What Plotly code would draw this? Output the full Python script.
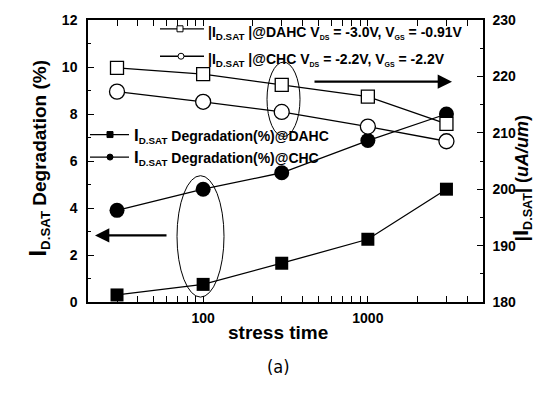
import plotly.graph_objects as go

# ---- data ----
stress_time = [30, 100, 300, 1000, 3000]
deg_dahc = [0.3, 0.75, 1.65, 2.67, 4.8]      # %  (left axis)
deg_chc = [3.9, 4.8, 5.5, 6.87, 8.0]          # %  (left axis)
isat_dahc = [221.5, 220.4, 218.5, 216.4, 211.6]  # uA/um (right axis)
isat_chc = [217.3, 215.5, 213.7, 211.1, 208.5]   # uA/um (right axis)

left_ticks = [0, 2, 4, 6, 8, 10, 12]
right_ticks = [180, 190, 200, 210, 220, 230]
x_major = [100, 1000]
x_minor = [20, 30, 40, 50, 60, 70, 80, 90, 200, 300, 400, 500, 600, 700, 800, 900,
           2000, 3000, 4000, 5000]

FONT = "Liberation Sans, Arial, sans-serif"
W, H = 557, 398
L, R, T, B = 88, 483, 14, 302


def px(xp):
    return (xp - L) / (R - L)


def py(yp):
    return (B - yp) / (B - T)


def bold(vals):
    return ["<b>%s</b>" % v for v in vals]


fig = go.Figure()

line_style = dict(color="black", width=1.3)

fig.add_trace(go.Scatter(x=stress_time, y=deg_dahc, mode="lines+markers",
                         line=line_style,
                         marker=dict(symbol="square", size=13, color="black"),
                         showlegend=False))
fig.add_trace(go.Scatter(x=stress_time, y=deg_chc, mode="lines+markers",
                         line=line_style,
                         marker=dict(symbol="circle", size=15, color="black"),
                         showlegend=False))
fig.add_trace(go.Scatter(x=stress_time, y=isat_chc, mode="lines+markers", yaxis="y2",
                         line=line_style,
                         marker=dict(symbol="circle", size=15, color="white",
                                     line=dict(color="black", width=1.3)),
                         showlegend=False))
fig.add_trace(go.Scatter(x=stress_time, y=isat_dahc, mode="lines+markers", yaxis="y2",
                         line=line_style,
                         marker=dict(symbol="square", size=13, color="white",
                                     line=dict(color="black", width=1.3)),
                         showlegend=False))

# ---- legend keys (on a hidden overlay axis in paper-like coordinates) ----
legend_keys = [
    # (x_left, x_right, x_marker, y, symbol, filled)
    (160, 204, 180, 23, "square", False),
    (160, 204, 181, 51, "circle", False),
    (90, 129, 110, 131, "square", True),
    (90, 129, 110, 154, "circle", True),
]
for xl, xr, xm, yy, sym, filled in legend_keys:
    fig.add_trace(go.Scatter(x=[px(xl), px(xr)], y=[py(yy), py(yy)], mode="lines",
                             line=dict(color="black", width=1.3),
                             xaxis="x3", yaxis="y3", showlegend=False, hoverinfo="skip"))
    fig.add_trace(go.Scatter(x=[px(xm)], y=[py(yy)], mode="markers",
                             marker=dict(symbol=sym, size=6,
                                         color="black" if filled else "white",
                                         line=dict(color="black", width=1)),
                             xaxis="x3", yaxis="y3", showlegend=False, hoverinfo="skip"))

annotations = []
legend_texts = [
    (206, 27, 14, "|I<sub>D.SAT</sub> |@DAHC V<sub><span style='font-size:7px'>DS</span></sub> = -3.0V, "
                  "V<sub><span style='font-size:7px'>GS</span></sub> = -0.91V"),
    (206, 55, 14, "|I<sub>D.SAT</sub> |@CHC V<sub><span style='font-size:7px'>DS</span></sub> = -2.2V, "
                  "V<sub><span style='font-size:7px'>GS</span></sub> = -2.2V"),
    (132, 132, 14, "<span style='font-size:17px'>I</span><sub>D.SAT</sub> Degradation(%)@DAHC"),
    (132, 155, 14, "<span style='font-size:17px'>I</span><sub>D.SAT</sub> Degradation(%)@CHC"),
]
for xx, yy, fs, txt in legend_texts:
    annotations.append(dict(x=px(xx), y=py(yy), xref="paper", yref="paper",
                            xanchor="left", yanchor="middle", showarrow=False,
                            text="<b>" + txt + "</b>",
                            font=dict(family=FONT, size=fs, color="black")))

# arrows
annotations.append(dict(x=px(95), y=py(234), xref="paper", yref="paper",
                        ax=73, ay=0, axref="pixel", ayref="pixel", text="",
                        showarrow=True, arrowhead=2, arrowsize=1.3, arrowwidth=2.2,
                        arrowcolor="black"))
annotations.append(dict(x=px(452), y=py(77), xref="paper", yref="paper",
                        ax=-139, ay=0, axref="pixel", ayref="pixel", text="",
                        showarrow=True, arrowhead=2, arrowsize=1.3, arrowwidth=2.2,
                        arrowcolor="black"))

# axis titles
annotations.append(dict(x=px(278), y=py(346), xref="paper", yref="paper",
                        text="<b>stress time</b>", showarrow=False,
                        font=dict(family=FONT, size=19, color="black")))
annotations.append(dict(x=px(278), y=py(381), xref="paper", yref="paper",
                        text="(a)", showarrow=False,
                        font=dict(family="DejaVu Sans Condensed, Liberation Sans Narrow, sans-serif",
                                  size=18, color="black")))
annotations.append(dict(x=px(22), y=py(155), xref="paper", yref="paper",
                        text="<b><span style='font-size:24px'>I</span><sub>D.SAT</sub> Degradation (%)</b>",
                        textangle=-90, showarrow=False,
                        font=dict(family=FONT, size=19, color="black")))
annotations.append(dict(x=px(537), y=py(176), xref="paper", yref="paper",
                        text="<b>|<span style='font-size:22px'>I</span><sub>D.SAT</sub>| (<i>uA/um</i>)</b>",
                        textangle=-90, showarrow=False,
                        font=dict(family=FONT, size=18, color="black")))

shapes = [
    dict(type="circle", xref="paper", yref="paper",
         x0=px(177), x1=px(224), y0=py(297), y1=py(173),
         line=dict(color="black", width=1)),
    dict(type="circle", xref="paper", yref="paper",
         x0=px(267), x1=px(300), y0=py(133), y1=py(57),
         line=dict(color="black", width=1)),
]

tickfont = dict(family=FONT, size=14, color="black")

fig.update_layout(
    width=W, height=H,
    margin=dict(l=L, r=W - R, t=T, b=H - B),
    paper_bgcolor="white", plot_bgcolor="white",
    showlegend=False,
    font=dict(family=FONT, color="black"),
    xaxis=dict(type="log", range=[1.301, 3.699],
               tickvals=x_major, ticktext=bold(x_major),
               ticks="inside", ticklen=6, tickwidth=1.3, tickcolor="black",
               minor=dict(tickvals=x_minor, ticks="inside", ticklen=3,
                          tickwidth=1, tickcolor="black"),
               showline=True, linecolor="black", linewidth=1.5, mirror="allticks",
               showgrid=False, zeroline=False,
               tickfont=tickfont, ticklabelstandoff=2),
    yaxis=dict(range=[0, 12], tickvals=left_ticks, ticktext=bold(left_ticks),
               ticks="inside", ticklen=6, tickwidth=1.3, tickcolor="black",
               minor=dict(dtick=1, ticks="inside", ticklen=3, tickwidth=1, tickcolor="black"),
               showline=True, linecolor="black", linewidth=1.5,
               showgrid=False, zeroline=False,
               tickfont=tickfont, ticklabelstandoff=6),
    yaxis2=dict(range=[180, 230], tickvals=right_ticks, ticktext=bold(right_ticks),
                overlaying="y", side="right",
                ticks="inside", ticklen=6, tickwidth=1.3, tickcolor="black",
                minor=dict(dtick=5, ticks="inside", ticklen=3, tickwidth=1, tickcolor="black"),
                showline=True, linecolor="black", linewidth=1.5,
                showgrid=False, zeroline=False,
                tickfont=tickfont, ticklabelstandoff=5),
    xaxis3=dict(range=[0, 1], overlaying="x", visible=False, fixedrange=True),
    yaxis3=dict(range=[0, 1], overlaying="y", visible=False, fixedrange=True),
    annotations=annotations,
    shapes=shapes,
)

fig.write_html("out.html")
